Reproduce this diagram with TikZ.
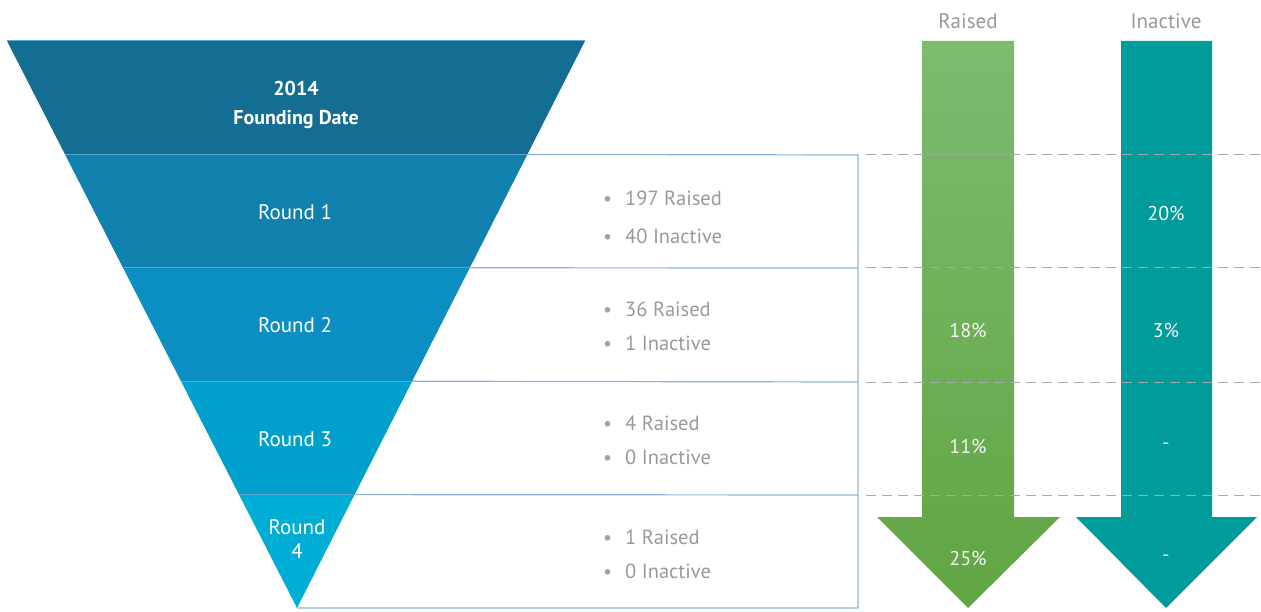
\documentclass[tikz,border=0pt]{standalone}
\usepackage{fontspec}
\setmainfont{PT Sans}
\usetikzlibrary{calc}
\definecolor{band0}{HTML}{146E93}
\definecolor{band1}{HTML}{1080AD}
\definecolor{band2}{HTML}{0B8FC2}
\definecolor{band3}{HTML}{00A0CC}
\definecolor{band4}{HTML}{00AED5}
\definecolor{boxblue}{HTML}{8DB3DC}
\definecolor{sepblue}{HTML}{5FA6CF}
\definecolor{txtgray}{HTML}{999999}
\definecolor{dashgray}{HTML}{A8A8A8}
\definecolor{greentop}{HTML}{7DBB6F}
\definecolor{greenbot}{HTML}{61A543}
\definecolor{teal}{HTML}{009C9C}
\tikzset{
  boxline/.style={draw=boxblue, line width=1.2pt},
  sepline/.style={draw=sepblue, line width=0.8pt},
  guide/.style={draw=dashgray, line width=1pt, dash pattern=on 10pt off 6pt},
  funneltext/.style={text=white, font=\fontsize{21}{24}\selectfont, align=center, inner sep=0pt},
  listtext/.style={text=txtgray, font=\fontsize{20.5}{24}\selectfont, anchor=west, inner sep=0pt},
  pcttext/.style={text=white!92!gray, font=\fontsize{20}{24}\selectfont, inner sep=0pt},
  headtext/.style={text=txtgray, font=\fontsize{21}{24}\selectfont, inner sep=0pt}
}
\newcommand{\bul}{\makebox[22pt][l]{\textcolor{txtgray!90}{\fontsize{20}{24}\selectfont\textbullet}}}
\begin{document}
\begin{tikzpicture}[x=1pt,y=-1pt]
\useasboundingbox (0,0) rectangle (1261,612);
% funnel geometry
\coordinate (L0) at (7,41);
\coordinate (R0) at (585,41);
\coordinate (A) at (297,608);
\foreach \i/\f in {1/0.2,2/0.4,3/0.6,4/0.8}{
  \coordinate (L\i) at ($(L0)!\f!(A)$);
  \coordinate (R\i) at ($(R0)!\f!(A)$);
}
% boxes
\coordinate (B1) at (858,155);
\coordinate (B2) at (858,268);
\coordinate (B3) at (858,382);
\coordinate (B4) at (858,495);
\coordinate (B5) at (858,608);
\draw[boxline] (R1) -- (B1) -- (B5) -- (A);
\draw[boxline] (R2) -- (B2);
\draw[boxline] (R3) -- (B3);
\draw[boxline] (R4) -- (B4);
% funnel bands
\fill[band0] (L0) -- (R0) -- (R1) -- (L1) -- cycle;
\fill[band1] (L1) -- (R1) -- (R2) -- (L2) -- cycle;
\fill[band2] (L2) -- (R2) -- (R3) -- (L3) -- cycle;
\fill[band3] (L3) -- (R3) -- (R4) -- (L4) -- cycle;
\fill[band4] (L4) -- (R4) -- (A) -- cycle;
\draw[sepblue, line width=1pt] (L0) -- (R0);
\foreach \i in {1,2,3,4}{\draw[sepline] (L\i) -- (R\i);}
% funnel labels
\node[funneltext, font=\fontsize{20}{29}\selectfont\bfseries] (f0) at (296,105) {2014\\Founding Date};
\node[funneltext] (f1) at (295,212) {Round 1};
\node[funneltext] (f2) at (295,325) {Round 2};
\node[funneltext] (f3) at (295,439) {Round 3};
\node[funneltext, font=\fontsize{21}{24}\selectfont] (f4) at (297,539) {Round\\4};
% lists
\node[listtext] (t1a) at (603,198) {\bul 197 Raised};
\node[listtext] (t1b) at (603,236) {\bul 40 Inactive};
\node[listtext] (t2a) at (603,309) {\bul 36 Raised};
\node[listtext] (t2b) at (603,343) {\bul 1 Inactive};
\node[listtext] (t3a) at (603,423) {\bul 4 Raised};
\node[listtext] (t3b) at (603,457) {\bul 0 Inactive};
\node[listtext] (t4a) at (603,537) {\bul 1 Raised};
\node[listtext] (t4b) at (603,571) {\bul 0 Inactive};
% arrows
\shade[top color=greentop, bottom color=greenbot]
  (922,41) -- (1014,41) -- (1014,517) -- (1060,517) -- (968,608) -- (877,517) -- (922,517) -- cycle;
\fill[teal]
  (1121,41) -- (1212,41) -- (1212,517) -- (1257,517) -- (1166,608) -- (1076,517) -- (1121,517) -- cycle;
% dashed guides
\foreach \y in {155,268,382,495}{\draw[guide] (866,\y) -- (1261,\y);}
% headers
\node[headtext] (hr) at (968,21) {Raised};
\node[headtext] (hi) at (1166,21) {Inactive};
% percentages
\node[pcttext] (p1i) at (1166,213) {20\%};
\node[pcttext] (p2r) at (968,330) {18\%};
\node[pcttext] (p2i) at (1166,330) {3\%};
\node[pcttext] (p3r) at (968,446) {11\%};
\node[pcttext] (p3i) at (1166,446) {-};
\node[pcttext] (p4r) at (968,558) {25\%};
\node[pcttext] (p4i) at (1166,558) {-};
\end{tikzpicture}
\end{document}
